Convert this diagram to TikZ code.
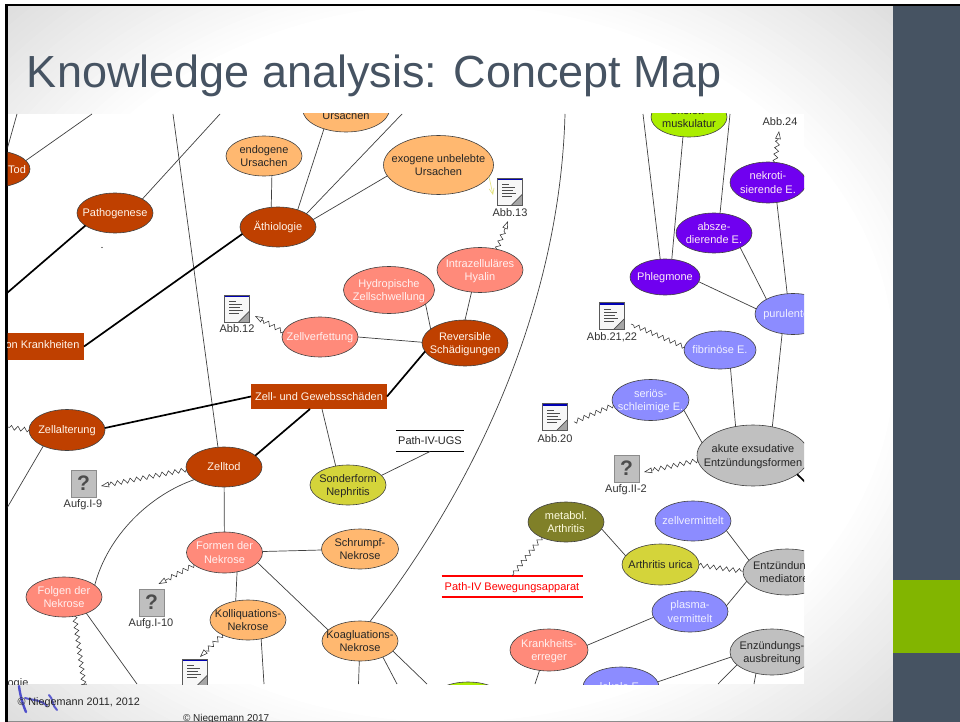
\documentclass[tikz,border=0pt]{standalone}
\usepackage{fontspec}
\setmainfont{Liberation Sans}
\usetikzlibrary{shapes.geometric,arrows.meta,decorations.pathmorphing,calc}
\definecolor{slate}{HTML}{465362}
\definecolor{barlime}{HTML}{82B500}
\definecolor{cbrown}{HTML}{BF4000}
\definecolor{csalmon}{HTML}{FF8A7A}
\definecolor{corange}{HTML}{FFB870}
\definecolor{clime}{HTML}{ABEE00}
\definecolor{cyellow}{HTML}{D4D43A}
\definecolor{cpurple}{HTML}{7000F0}
\definecolor{cperi}{HTML}{8C8CFF}
\definecolor{cgray}{HTML}{C0C0C0}
\definecolor{colive}{HTML}{808028}
\definecolor{linegray}{HTML}{404040}
\definecolor{paleyellow}{HTML}{E2E27A}
\newcommand\tx[1]{\smash{\makebox[0pt]{\raisebox{-.36em}{\begin{tabular}[c]{@{}c@{}}#1\end{tabular}}}}}
\tikzset{
  x=1pt,y=-1pt,
  base/.style={inner sep=0pt,outer sep=0pt,font=\fontsize{11}{13.4}\selectfont},
  ell/.style 2 args={base,ellipse,draw=black!75,line width=.6pt,minimum width=#1,minimum height=#2},
  nbrown/.style={fill=cbrown,text=orange!8},
  nsalmon/.style={fill=csalmon,text=red!6},
  norange/.style={fill=corange,text=black!85},
  nlime/.style={fill=clime,text=black!85},
  nyellow/.style={fill=cyellow,text=black!85},
  npurple/.style={fill=cpurple,text=magenta!8},
  nperi/.style={fill=cperi,text=blue!6},
  ngray/.style={fill=cgray,text=black!85},
  nolive/.style={fill=colive,text=yellow!12},
  rectn/.style 2 args={base,rectangle,fill=cbrown,text=orange!8,minimum width=#1,minimum height=#2},
  lab/.style={base,text=black!80},
  link/.style={draw=linegray,line width=.7pt},
  strong/.style={draw=black,line width=1.7pt},
  wavy/.style={draw=black!80,line width=.55pt,decorate,decoration={zigzag,segment length=6.5pt,amplitude=2.2pt}},
  wavya/.style={draw=black!80,line width=.55pt,-{Triangle[open,length=8pt,width=5.5pt]},decorate,decoration={zigzag,segment length=6.5pt,amplitude=2.2pt,post length=8pt}},
  noteicon/.style={base,rectangle,draw=black!65,fill=black!3,line width=.7pt,minimum width=25pt,minimum height=27pt,
    path picture={
      \fill[blue!70!black] (path picture bounding box.north west) rectangle ([yshift=-2pt]path picture bounding box.north east);
      \foreach \q/\w in {-5/2,-2/6,1/3,4/5,7/-1}{\draw[black!70,line width=.5pt] ([xshift=-8pt,yshift=\q pt]path picture bounding box.center) -- ([xshift=\w pt,yshift=\q pt]path picture bounding box.center);}
      \fill[black!35] (path picture bounding box.south east) -- ([xshift=-11pt]path picture bounding box.south east) -- ([yshift=11pt]path picture bounding box.south east) -- cycle;
      \draw[black!70,line width=.7pt] ([xshift=-11pt]path picture bounding box.south east) -- ([yshift=11pt]path picture bounding box.south east);
    }},
  quesicon/.style={base,rectangle,fill=black!25,draw=black!45,line width=.8pt,minimum width=25pt,minimum height=27pt,text=black!70,font=\fontsize{21}{21}\selectfont\bfseries}
}
\begin{document}
\begin{tikzpicture}
\useasboundingbox (0,0) rectangle (960,722);
\fill[white] (0,0) rectangle (960,722);
\begin{scope}
\clip (7,6) rectangle (893,721);
\fill[black!13] (7,6) rectangle (893,721);
\foreach \k in {0,...,26}{
  \pgfmathsetmacro\fa{1.42-\k*0.016}
  \pgfmathsetmacro\ra{443*\fa}
  \pgfmathsetmacro\rb{358*\fa}
  \pgfmathsetmacro\sh{13*(\fa-1)/0.42}
  \fill[black!\sh] (450,363) ellipse [x radius=\ra pt,y radius=\rb pt];
}
\fill[white] (450,363) ellipse [x radius=443pt,y radius=358pt];
\end{scope}
\draw[black!45,line width=.8pt] (7,721.4) -- (893,721.4);
\fill[slate] (893,4) rectangle (960,722);
\fill[barlime] (893,580) rectangle (960,653);
\fill[black] (5,4) rectangle (960,6.5);
\fill[black] (5,4) rectangle (7.6,722);
\node[base,anchor=base west,text=slate,font=\fontsize{45}{50}\selectfont,inner sep=0pt] (title) at (27,88) {Knowledge analysis: Concept Map};
\begin{scope}
\clip (7.6,114) rectangle (804,684);
\fill[white] (7.6,114) rectangle (804,684);
% free ends
\coordinate (t1) at (17,114); \coordinate (t2) at (92,114); \coordinate (t3) at (220,114);
\coordinate (t4) at (173,114); \coordinate (t5) at (402,114); \coordinate (t6) at (565,114);
\coordinate (t7) at (643,114); \coordinate (t8) at (730,114);
\coordinate (l1) at (7,293); \coordinate (l2) at (7,508); \coordinate (l3) at (7,427);
\coordinate (b1) at (85,692); \coordinate (b2) at (137,684); \coordinate (b3) at (264,684);
\coordinate (b4) at (358.5,684); \coordinate (b5) at (397,684); \coordinate (b6) at (427,684);
\coordinate (b7) at (535,684); \coordinate (b8) at (718,684); \coordinate (b9) at (754,684);
\coordinate (r1) at (806,483);
% left part
\node[ell={76pt}{37pt},nbrown] (tod) at (-8,169) {};
\node[base,text=orange!8] (todt) at (17,169.5) {Tod};
\node[ell={76pt}{40pt},nbrown] (patho) at (115,213) {\tx{Pathogenese}};
\node[ell={76pt}{40pt},nbrown] (aeth) at (278,227) {\tx{Äthiologie}};
\node[ell={76pt}{40pt},norange] (endo) at (264,156) {\tx{endogene\\Ursachen}};
\node[ell={87pt}{46pt},norange] (urs) at (346,109) {\tx{belebte\\Ursachen}};
\node[ell={110pt}{59pt},norange] (exo) at (438.5,165) {\tx{exogene unbelebte\\Ursachen}};
\node[ell={91pt}{47pt},nsalmon] (hydro) at (389,290) {\tx{Hydropische\\Zellschwellung}};
\node[ell={86pt}{45pt},nsalmon] (intra) at (480,270) {\tx{Intrazelluläres\\Hyalin}};
\node[ell={86pt}{46pt},nbrown] (rev) at (465,343) {\tx{Reversible\\Schädigungen}};
\node[ell={76pt}{40pt},nsalmon] (verf) at (320,337) {\tx{Zellverfettung}};
\node[rectn={88pt}{27pt}] (krank) at (40,346.5) {\makebox[0pt]{\hspace*{5pt}\raisebox{-.36em}{\smash{on Krankheiten}}}};
\node[rectn={136pt}{25pt}] (zell) at (319,396.5) {\tx{Zell- und Gewebsschäden}};
\node[ell={76pt}{41pt},nbrown] (alter) at (67,430) {\tx{Zellalterung}};
\node[ell={76pt}{40pt},nbrown] (tod2) at (224,467) {\tx{Zelltod}};
\node[ell={76pt}{40pt},nyellow] (sonder) at (348,485) {\tx{Sonderform\\Nephritis}};
\node[ell={76pt}{41pt},nsalmon] (formen) at (224.5,552.5) {\tx{Formen der\\Nekrose}};
\node[ell={77pt}{40pt},norange] (schrumpf) at (360,549) {\tx{Schrumpf-\\Nekrose}};
\node[ell={76pt}{40pt},nsalmon] (folgen) at (64,597) {\tx{Folgen der\\Nekrose}};
\node[ell={76pt}{40pt},norange] (koll) at (248,620) {\tx{Kolliquations-\\Nekrose}};
\node[ell={76pt}{40pt},norange] (koag) at (360,641) {\tx{Koagluations-\\Nekrose}};
% right part
\node[ell={76pt}{40pt},nlime] (musk) at (689,117) {\tx{Skelett-\\muskulatur}};
\node[ell={76pt}{41pt},npurple] (nekro) at (768,182.5) {\tx{nekroti-\\sierende E.}};
\node[ell={76pt}{40pt},npurple] (abs) at (714,233) {\tx{absze-\\dierende E.}};
\node[ell={70pt}{36pt},npurple] (phleg) at (665,277) {\tx{Phlegmone}};
\node[ell={76pt}{41pt},nperi] (puru) at (793,314) {\tx{purulente E.}};
\node[ell={72pt}{38pt},nperi] (fibri) at (720,350) {\tx{fibrinöse E.}};
\node[ell={77pt}{41pt},nperi] (seri) at (650.5,400) {\tx{seriös-\\schleimige E.}};
\node[ell={112pt}{61pt},ngray] (akut) at (753,455.5) {\tx{akute exsudative\\Entzündungsformen}};
\node[ell={76pt}{40pt},nolive] (meta) at (566,522) {\tx{metabol.\\Arthritis}};
\node[ell={76pt}{40pt},nperi] (zverm) at (693,521) {\tx{zellvermittelt}};
\node[ell={77pt}{41pt},nyellow] (urica) at (660.5,564.5) {\tx{Arthritis urica}};
\node[ell={88pt}{46pt},ngray] (entz) at (787,572) {\tx{Entzündungs-\\mediatoren}};
\node[ell={76pt}{41pt},nperi] (plasma) at (690,611.5) {\tx{plasma-\\vermittelt}};
\node[ell={78pt}{42pt},nsalmon] (erreg) at (549,650) {\tx{Krankheits-\\erreger}};
\node[ell={84pt}{46pt},ngray] (ausb) at (772,652) {\tx{Enzündungs-\\ausbreitung}};
\node[ell={76pt}{40pt},nperi] (lokal) at (621,687) {\tx{lokale E.}};
\node[ell={76pt}{40pt},nlime] (limeb) at (468,702) {};
% path labels
\node[base,minimum width=68pt,minimum height=21pt,text=black!85] (ugs) at (430,441) {\tx{Path-IV-UGS}};
\node[base,minimum width=141pt,minimum height=21pt,text=red] (bew) at (512,586.5) {\tx{Path-IV Bewegungsapparat}};
\draw[black,line width=1.6pt] (ugs.north west) -- (ugs.north east) (ugs.south west) -- (ugs.south east);
\draw[red,line width=1.6pt] (bew.north west) -- (bew.north east) (bew.south west) -- (bew.south east);
% icons
\node[noteicon] (i12) at (237,308.5) {}; \node[lab] (a12) at (237,329) {\tx{Abb.12}};
\node[noteicon] (i13) at (510,191.5) {}; \node[lab] (a13) at (510,213) {\tx{Abb.13}};
\node[noteicon] (i21) at (612,316) {}; \node[lab] (a21) at (612,337) {\tx{Abb.21,22}};
\node[noteicon] (i20) at (555,417) {}; \node[lab] (a20) at (555,439) {\tx{Abb.20}};
\node[noteicon] (ib) at (195,672.5) {};
\node[lab] (a24) at (780,121.5) {\tx{Abb.24}};
\node[quesicon] (q9) at (83.5,483.5) {?}; \node[lab] (f9) at (83,504) {\tx{Aufg.I-9}};
\node[quesicon] (q10) at (151.5,602.5) {?}; \node[lab] (f10) at (151,623) {\tx{Aufg.I-10}};
\node[quesicon] (q2) at (626.5,468.5) {?}; \node[lab] (f2) at (626,489) {\tx{Aufg.II-2}};
\node[lab] (ogie) at (18,683) {\tx{ogie}};
\fill[black] (102,247.5) circle (.6);
% thin links
\draw[link] (tod.50) -- (t1);
\draw[link] (tod.14) -- (t2);
\draw[link] (patho.27) -- (t3);
\draw[link] (t4) -- (tod2.107);
\draw[link] (urs.-138) -- (aeth.41);
\draw[link] (endo.-68) -- (aeth.109);
\draw[link] (aeth.25) -- (t5);
\draw[link] (exo.-168) -- (aeth.12);
\draw[link] (hydro.-21) -- (rev.158);
\draw[link] (intra.-111) -- (rev.90);
\draw[link] (verf.0) -- (rev.179);
\draw[link] ([xshift=3pt]zell.south) -- (sonder.123);
\draw[link] (sonder.16) -- (ugs.south);
\draw[link] (koag.63) .. controls (480,480) and (560,300) .. (t6);
\draw[link] (tod2) -- (formen);
\draw[link] (formen) -- (schrumpf);
\draw[link] (formen.-57) -- (koll.123);
\draw[link] (formen.-17) -- (koag.161);
\draw[link] (tod2.-157) .. controls (150,495) and (108,535) .. (folgen.21);
\draw[link] (alter.-146) -- (l2);
\draw[link] (koll.-55) -- (b3);
\draw[link] (folgen.-36) -- (b2);
\draw[link] (koag.-92) -- (b4);
\draw[link] (koag.-35) -- (b5);
\draw[link] (koag.-17) -- (b6);
\draw[link] (t7) -- (phleg.105);
\draw[link] (musk.-107) -- (phleg.69);
\draw[link] (t8) -- (abs.73);
\draw[link] (abs.-29) -- (puru.151);
\draw[link] (nekro.-66) -- (puru.106);
\draw[link] (phleg.-8) -- (puru.172);
\draw[link] (puru.-119) -- (akut.56);
\draw[link] (fibri.-60) -- (akut.121);
\draw[link] (seri.-17) -- (akut.166);
\draw[link] (meta.-11) -- (urica.166);
\draw[link] (zverm.-16) -- (entz.163);
\draw[link] (plasma.9) -- (entz.-167);
\draw[link] (erreg.7) -- (plasma.-171);
\draw[link] (lokal.8) -- (ausb.-173);
\draw[link] (erreg.-115) -- (b7);
\draw[link] (ausb.-160) -- (b8);
\draw[link] (ausb.-127) -- (b9);
% thick links
\draw[strong] (patho.-157) -- (l1);
\draw[strong] (aeth.-169) -- (krank.east);
\draw[strong] (alter.3) -- (zell.west);
\draw[strong] (zell.east) -- (rev.-168);
\draw[strong] ([xshift=-9pt]zell.south) -- (tod2.20);
\draw[strong] (akut.-23.5) -- (r1);
% wavy links
\draw[wavy] (alter.180) -- (l3);
\draw[wavya] (tod2.-176) -- ($(q9.east)+(5,2.5)$);
\draw[wavya] (formen.-158) -- ($(q10.north)+(7,-5)$);
\draw[wavya] (koll.-150) -- ($(ib.north)+(5,-2)$);
\draw[wavya] (folgen.-61) -- (b1);
\draw[wavya] (verf.172) -- ($(i12.east)+(5.5,7.5)$);
\draw[wavya] (intra.51) -- ($(a13)+(-2,8)$);
\draw[draw=paleyellow,line width=.6pt,-{Straight Barb[length=6pt,width=5pt]}] (exo.-13) -- ($(i13.west)+(-4.5,3.5)$);
\draw[wavy] (fibri.175) -- ($(a21)+(19,-13)$);
\draw[wavy] (seri.-172.6) -- ($(i20.east)+(6.5,5)$);
\draw[wavya] (akut.-175) -- ($(q2.east)+(5,3.5)$);
\draw[wavya] (nekro.71) -- ($(a24)+(-1,9.5)$);
\draw[wavy] (meta.-148) -- (bew.north);
\draw[wavy] (urica.-1) -- (entz.179);
\end{scope}
% lower band
\draw[blue!75!black,opacity=.65,line width=2.4pt,line cap=round] (19,686) .. controls (20,695) and (23,705) .. (26,712);
\draw[blue!75!black,opacity=.6,line width=2pt,line cap=round] (25,698) .. controls (32,700) and (42,700) .. (47,706) (49,695) .. controls (53,698) and (52,706) .. (57,710);
\node[base,anchor=west,text=black!85,font=\fontsize{10.8}{12}\selectfont] (c1) at (17.5,703) {© Niegemann 2011, 2012};
\begin{scope}
\clip (0,700) rectangle (893,721);
\node[base,anchor=west,text=black!85,font=\fontsize{10}{12}\selectfont] (c2) at (183,719) {© Niegemann 2017};
\end{scope}
\end{tikzpicture}
\end{document}
